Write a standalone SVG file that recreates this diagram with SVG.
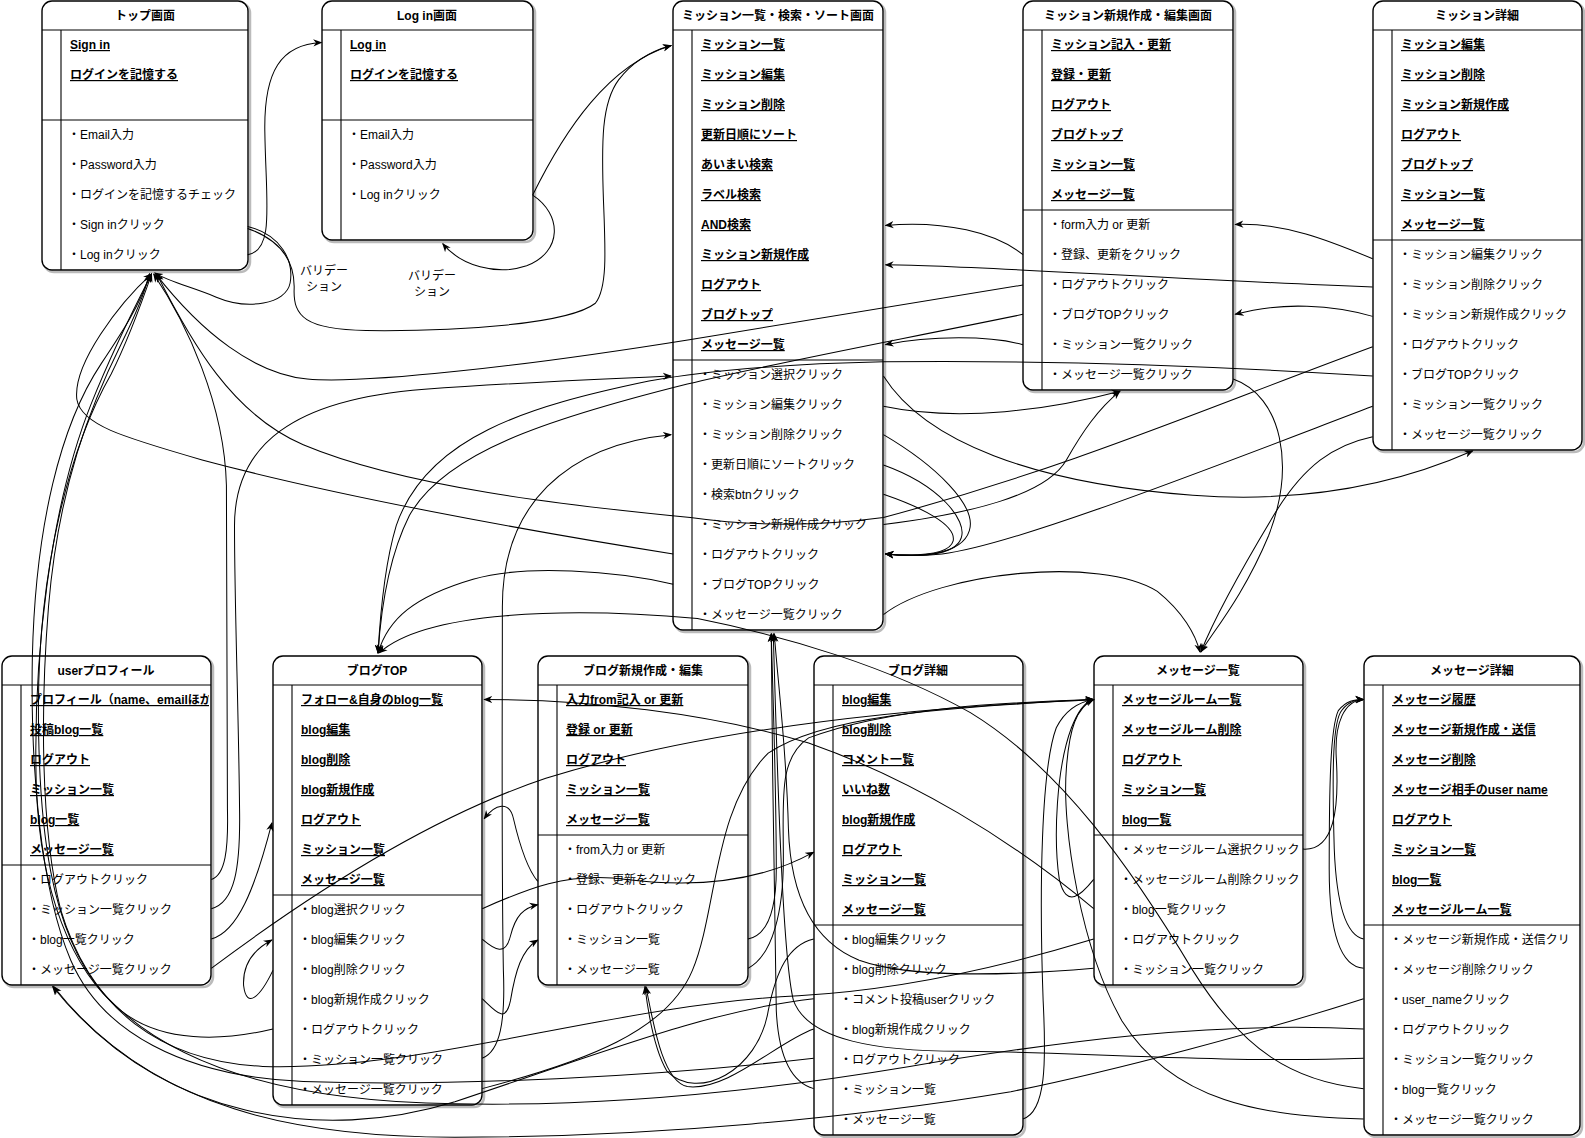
<svg xmlns="http://www.w3.org/2000/svg" width="1585" height="1138" viewBox="0 0 1585 1138">
<style>
  text { font-family: "Liberation Sans", "Noto Sans CJK JP", sans-serif; font-size: 12px; fill: #000; }
  .box { fill: #fff; stroke: #000; stroke-width: 1.4; }
  .sh { fill: none; stroke: #bbb; stroke-width: 2.5; }
  .ln { stroke: #000; stroke-width: 1.1; fill: none; }
  .hd { font-weight: bold; text-anchor: middle; }
  .up { font-weight: bold; text-decoration: underline; }
  .lb { text-anchor: middle; }
  .cn path { fill: none; stroke: #000; stroke-width: 1; marker-end: url(#arr); }
</style>
<defs>
  <marker id="arr" viewBox="0 0 10 10" refX="9" refY="5" markerWidth="9" markerHeight="9" markerUnits="userSpaceOnUse" orient="auto">
    <path d="M0,1 L10,5 L0,9 L3,5 z" fill="#000"/>
  </marker>
  <clipPath id="clip-user"><rect x="0" y="0" width="207" height="329"/></clipPath>
  <clipPath id="clip-msgdetail"><rect x="0" y="0" width="216" height="479"/></clipPath>
</defs>
<rect width="1585" height="1138" fill="#fff"/>

<!-- トップ画面 -->
<g id="node-top" transform="translate(42,1)">
  <rect class="sh" x="2" y="2" width="206" height="269" rx="10"/>
  <rect class="box" width="206" height="269" rx="10"/>
  <line class="ln" x1="0" y1="29" x2="206" y2="29"/>
  <line class="ln" x1="19" y1="29" x2="19" y2="269"/>
  <line class="ln" x1="0" y1="119" x2="206" y2="119"/>
  <text class="hd" x="103" y="19">トップ画面</text>
  <text class="up" x="28" y="48">Sign in</text>
  <text class="up" x="28" y="78">ログインを記憶する</text>
  <text x="26" y="138">・Email入力</text>
  <text x="26" y="168">・Password入力</text>
  <text x="26" y="198">・ログインを記憶するチェック</text>
  <text x="26" y="228">・Sign inクリック</text>
  <text x="26" y="258">・Log inクリック</text>
</g>

<!-- Log in画面 -->
<g id="node-login" transform="translate(322,1)">
  <rect class="sh" x="2" y="2" width="211" height="239" rx="10"/>
  <rect class="box" width="211" height="239" rx="10"/>
  <line class="ln" x1="0" y1="29" x2="211" y2="29"/>
  <line class="ln" x1="19" y1="29" x2="19" y2="239"/>
  <line class="ln" x1="0" y1="119" x2="211" y2="119"/>
  <text class="hd" x="105" y="19">Log in画面</text>
  <text class="up" x="28" y="48">Log in</text>
  <text class="up" x="28" y="78">ログインを記憶する</text>
  <text x="26" y="138">・Email入力</text>
  <text x="26" y="168">・Password入力</text>
  <text x="26" y="198">・Log inクリック</text>
</g>

<!-- ミッション一覧・検索・ソート画面 -->
<g id="node-mission-list" transform="translate(673,1)">
  <rect class="sh" x="2" y="2" width="210" height="629" rx="10"/>
  <rect class="box" width="210" height="629" rx="10"/>
  <line class="ln" x1="0" y1="29" x2="210" y2="29"/>
  <line class="ln" x1="19" y1="29" x2="19" y2="629"/>
  <line class="ln" x1="0" y1="359" x2="210" y2="359"/>
  <text class="hd" x="105" y="19">ミッション一覧・検索・ソート画面</text>
  <text class="up" x="28" y="48">ミッション一覧</text>
  <text class="up" x="28" y="78">ミッション編集</text>
  <text class="up" x="28" y="108">ミッション削除</text>
  <text class="up" x="28" y="138">更新日順にソート</text>
  <text class="up" x="28" y="168">あいまい検索</text>
  <text class="up" x="28" y="198">ラベル検索</text>
  <text class="up" x="28" y="228">AND検索</text>
  <text class="up" x="28" y="258">ミッション新規作成</text>
  <text class="up" x="28" y="288">ログアウト</text>
  <text class="up" x="28" y="318">ブログトップ</text>
  <text class="up" x="28" y="348">メッセージ一覧</text>
  <text x="26" y="378">・ミッション選択クリック</text>
  <text x="26" y="408">・ミッション編集クリック</text>
  <text x="26" y="438">・ミッション削除クリック</text>
  <text x="26" y="468">・更新日順にソートクリック</text>
  <text x="26" y="498">・検索btnクリック</text>
  <text x="26" y="528">・ミッション新規作成クリック</text>
  <text x="26" y="558">・ログアウトクリック</text>
  <text x="26" y="588">・ブログTOPクリック</text>
  <text x="26" y="618">・メッセージ一覧クリック</text>
</g>

<!-- ミッション新規作成・編集画面 -->
<g id="node-mission-edit" transform="translate(1023,1)">
  <rect class="sh" x="2" y="2" width="210" height="389" rx="10"/>
  <rect class="box" width="210" height="389" rx="10"/>
  <line class="ln" x1="0" y1="29" x2="210" y2="29"/>
  <line class="ln" x1="19" y1="29" x2="19" y2="389"/>
  <line class="ln" x1="0" y1="209" x2="210" y2="209"/>
  <text class="hd" x="105" y="19">ミッション新規作成・編集画面</text>
  <text class="up" x="28" y="48">ミッション記入・更新</text>
  <text class="up" x="28" y="78">登録・更新</text>
  <text class="up" x="28" y="108">ログアウト</text>
  <text class="up" x="28" y="138">ブログトップ</text>
  <text class="up" x="28" y="168">ミッション一覧</text>
  <text class="up" x="28" y="198">メッセージ一覧</text>
  <text x="26" y="228">・form入力 or 更新</text>
  <text x="26" y="258">・登録、更新をクリック</text>
  <text x="26" y="288">・ログアウトクリック</text>
  <text x="26" y="318">・ブログTOPクリック</text>
  <text x="26" y="348">・ミッション一覧クリック</text>
  <text x="26" y="378">・メッセージ一覧クリック</text>
</g>

<!-- ミッション詳細 -->
<g id="node-mission-detail" transform="translate(1373,1)">
  <rect class="sh" x="2" y="2" width="209" height="449" rx="10"/>
  <rect class="box" width="209" height="449" rx="10"/>
  <line class="ln" x1="0" y1="29" x2="209" y2="29"/>
  <line class="ln" x1="19" y1="29" x2="19" y2="449"/>
  <line class="ln" x1="0" y1="239" x2="209" y2="239"/>
  <text class="hd" x="104" y="19">ミッション詳細</text>
  <text class="up" x="28" y="48">ミッション編集</text>
  <text class="up" x="28" y="78">ミッション削除</text>
  <text class="up" x="28" y="108">ミッション新規作成</text>
  <text class="up" x="28" y="138">ログアウト</text>
  <text class="up" x="28" y="168">ブログトップ</text>
  <text class="up" x="28" y="198">ミッション一覧</text>
  <text class="up" x="28" y="228">メッセージ一覧</text>
  <text x="26" y="258">・ミッション編集クリック</text>
  <text x="26" y="288">・ミッション削除クリック</text>
  <text x="26" y="318">・ミッション新規作成クリック</text>
  <text x="26" y="348">・ログアウトクリック</text>
  <text x="26" y="378">・ブログTOPクリック</text>
  <text x="26" y="408">・ミッション一覧クリック</text>
  <text x="26" y="438">・メッセージ一覧クリック</text>
</g>

<!-- userプロフィール -->
<g id="node-user-profile" transform="translate(2,656)">
  <rect class="sh" x="2" y="2" width="209" height="329" rx="10"/>
  <rect class="box" width="209" height="329" rx="10"/>
  <line class="ln" x1="0" y1="29" x2="209" y2="29"/>
  <line class="ln" x1="19" y1="29" x2="19" y2="329"/>
  <line class="ln" x1="0" y1="209" x2="209" y2="209"/>
  <text class="hd" x="104" y="19">userプロフィール</text>
  <text class="up" x="28" y="48" clip-path="url(#clip-user)">プロフィール（name、emailほか</text>
  <text class="up" x="28" y="78">投稿blog一覧</text>
  <text class="up" x="28" y="108">ログアウト</text>
  <text class="up" x="28" y="138">ミッション一覧</text>
  <text class="up" x="28" y="168">blog一覧</text>
  <text class="up" x="28" y="198">メッセージ一覧</text>
  <text x="26" y="228">・ログアウトクリック</text>
  <text x="26" y="258">・ミッション一覧クリック</text>
  <text x="26" y="288">・blog一覧クリック</text>
  <text x="26" y="318">・メッセージ一覧クリック</text>
</g>

<!-- ブログTOP -->
<g id="node-blog-top" transform="translate(273,656)">
  <rect class="sh" x="2" y="2" width="209" height="449" rx="10"/>
  <rect class="box" width="209" height="449" rx="10"/>
  <line class="ln" x1="0" y1="29" x2="209" y2="29"/>
  <line class="ln" x1="19" y1="29" x2="19" y2="449"/>
  <line class="ln" x1="0" y1="239" x2="209" y2="239"/>
  <text class="hd" x="104" y="19">ブログTOP</text>
  <text class="up" x="28" y="48">フォロー&amp;自身のblog一覧</text>
  <text class="up" x="28" y="78">blog編集</text>
  <text class="up" x="28" y="108">blog削除</text>
  <text class="up" x="28" y="138">blog新規作成</text>
  <text class="up" x="28" y="168">ログアウト</text>
  <text class="up" x="28" y="198">ミッション一覧</text>
  <text class="up" x="28" y="228">メッセージ一覧</text>
  <text x="26" y="258">・blog選択クリック</text>
  <text x="26" y="288">・blog編集クリック</text>
  <text x="26" y="318">・blog削除クリック</text>
  <text x="26" y="348">・blog新規作成クリック</text>
  <text x="26" y="378">・ログアウトクリック</text>
  <text x="26" y="408">・ミッション一覧クリック</text>
  <text x="26" y="438">・メッセージ一覧クリック</text>
</g>

<!-- ブログ新規作成・編集 -->
<g id="node-blog-edit" transform="translate(538,656)">
  <rect class="sh" x="2" y="2" width="210" height="329" rx="10"/>
  <rect class="box" width="210" height="329" rx="10"/>
  <line class="ln" x1="0" y1="29" x2="210" y2="29"/>
  <line class="ln" x1="19" y1="29" x2="19" y2="329"/>
  <line class="ln" x1="0" y1="179" x2="210" y2="179"/>
  <text class="hd" x="105" y="19">ブログ新規作成・編集</text>
  <text class="up" x="28" y="48">入力from記入 or 更新</text>
  <text class="up" x="28" y="78">登録 or 更新</text>
  <text class="up" x="28" y="108">ログアウト</text>
  <text class="up" x="28" y="138">ミッション一覧</text>
  <text class="up" x="28" y="168">メッセージ一覧</text>
  <text x="26" y="198">・from入力 or 更新</text>
  <text x="26" y="228">・登録、更新をクリック</text>
  <text x="26" y="258">・ログアウトクリック</text>
  <text x="26" y="288">・ミッション一覧</text>
  <text x="26" y="318">・メッセージ一覧</text>
</g>

<!-- ブログ詳細 -->
<g id="node-blog-detail" transform="translate(814,656)">
  <rect class="sh" x="2" y="2" width="209" height="479" rx="10"/>
  <rect class="box" width="209" height="479" rx="10"/>
  <line class="ln" x1="0" y1="29" x2="209" y2="29"/>
  <line class="ln" x1="19" y1="29" x2="19" y2="479"/>
  <line class="ln" x1="0" y1="269" x2="209" y2="269"/>
  <text class="hd" x="104" y="19">ブログ詳細</text>
  <text class="up" x="28" y="48">blog編集</text>
  <text class="up" x="28" y="78">blog削除</text>
  <text class="up" x="28" y="108">コメント一覧</text>
  <text class="up" x="28" y="138">いいね数</text>
  <text class="up" x="28" y="168">blog新規作成</text>
  <text class="up" x="28" y="198">ログアウト</text>
  <text class="up" x="28" y="228">ミッション一覧</text>
  <text class="up" x="28" y="258">メッセージ一覧</text>
  <text x="26" y="288">・blog編集クリック</text>
  <text x="26" y="318">・blog削除クリック</text>
  <text x="26" y="348">・コメント投稿userクリック</text>
  <text x="26" y="378">・blog新規作成クリック</text>
  <text x="26" y="408">・ログアウトクリック</text>
  <text x="26" y="438">・ミッション一覧</text>
  <text x="26" y="468">・メッセージ一覧</text>
</g>

<!-- メッセージ一覧 -->
<g id="node-message-list" transform="translate(1094,656)">
  <rect class="sh" x="2" y="2" width="209" height="329" rx="10"/>
  <rect class="box" width="209" height="329" rx="10"/>
  <line class="ln" x1="0" y1="29" x2="209" y2="29"/>
  <line class="ln" x1="19" y1="29" x2="19" y2="329"/>
  <line class="ln" x1="0" y1="179" x2="209" y2="179"/>
  <text class="hd" x="104" y="19">メッセージ一覧</text>
  <text class="up" x="28" y="48">メッセージルーム一覧</text>
  <text class="up" x="28" y="78">メッセージルーム削除</text>
  <text class="up" x="28" y="108">ログアウト</text>
  <text class="up" x="28" y="138">ミッション一覧</text>
  <text class="up" x="28" y="168">blog一覧</text>
  <text x="26" y="198">・メッセージルーム選択クリック</text>
  <text x="26" y="228">・メッセージルーム削除クリック</text>
  <text x="26" y="258">・blog一覧クリック</text>
  <text x="26" y="288">・ログアウトクリック</text>
  <text x="26" y="318">・ミッション一覧クリック</text>
</g>

<!-- メッセージ詳細 -->
<g id="node-message-detail" transform="translate(1364,656)">
  <rect class="sh" x="2" y="2" width="216" height="479" rx="10"/>
  <rect class="box" width="216" height="479" rx="10"/>
  <line class="ln" x1="0" y1="29" x2="216" y2="29"/>
  <line class="ln" x1="19" y1="29" x2="19" y2="479"/>
  <line class="ln" x1="0" y1="269" x2="216" y2="269"/>
  <text class="hd" x="108" y="19">メッセージ詳細</text>
  <text class="up" x="28" y="48">メッセージ履歴</text>
  <text class="up" x="28" y="78">メッセージ新規作成・送信</text>
  <text class="up" x="28" y="108">メッセージ削除</text>
  <text class="up" x="28" y="138">メッセージ相手のuser name</text>
  <text class="up" x="28" y="168">ログアウト</text>
  <text class="up" x="28" y="198">ミッション一覧</text>
  <text class="up" x="28" y="228">blog一覧</text>
  <text class="up" x="28" y="258">メッセージルーム一覧</text>
  <text x="26" y="288" clip-path="url(#clip-msgdetail)">・メッセージ新規作成・送信クリ</text>
  <text x="26" y="318">・メッセージ削除クリック</text>
  <text x="26" y="348">・user_nameクリック</text>
  <text x="26" y="378">・ログアウトクリック</text>
  <text x="26" y="408">・ミッション一覧クリック</text>
  <text x="26" y="438">・blog一覧クリック</text>
  <text x="26" y="468">・メッセージ一覧クリック</text>
</g>

<!-- validation labels -->
<text class="lb" x="324" y="275">バリデー</text>
<text class="lb" x="324" y="291">ション</text>
<text class="lb" x="432" y="280">バリデー</text>
<text class="lb" x="432" y="296">ション</text>

<!-- connectors (laid out on a 1568-wide grid, scaled to the canvas) -->
<g id="connectors" class="cn" transform="scale(1.0108)">
  <path d="M245,252 C272,248 263,200 262,130 C261,70 278,44 318,42"/>
  <path d="M245,224 C278,232 291,258 287,280 C283,301 245,307 214,294 C190,284 168,279 153,270"/>
  <path d="M245,226 C276,237 292,256 291,286 C290,313 302,326 362,327 C452,328 562,321 589,300 C601,285 599,248 597,198 C595,140 595,102 612,79 C625,62 642,51 664,45"/>
  <path d="M527,193 C559,128 602,64 664,45"/>
  <path d="M527,193 C556,212 557,249 521,263 C491,273 456,263 438,241"/>
  <path d="M874,372 C915,437 1022,478 1180,490 C1320,500 1412,466 1457,446"/>
  <path d="M874,402 C950,418 1040,405 1108,387"/>
  <path d="M874,430 C925,460 967,500 959,525 C951,551 905,551 876,548"/>
  <path d="M874,460 C930,480 957,515 951,532 C945,551 905,551 876,548"/>
  <path d="M874,489 C915,503 946,520 943,535 C939,550 905,550 876,548"/>
  <path d="M874,519 C960,508 1035,490 1055,455 C1071,427 1086,405 1108,387"/>
  <path d="M874,608 C930,565 1090,550 1145,585 C1170,605 1183,628 1187,645"/>
  <path d="M666,548 C520,525 330,490 200,455 C120,432 80,420 76,395 C72,360 118,300 150,271"/>
  <path d="M666,578 C610,565 520,558 468,573 C410,590 384,612 374,646"/>
  <path d="M1012,252 C985,230 935,218 876,223"/>
  <path d="M1012,282 L682,336 C520,362 362,380 304,375 C252,370 200,330 154,271"/>
  <path d="M1012,311 C870,340 762,360 680,380 C540,415 440,448 405,510 C385,550 377,600 374,646"/>
  <path d="M1012,341 C980,332 920,332 876,341"/>
  <path d="M1220,375 C1268,392 1282,460 1255,530 C1230,590 1200,625 1188,645"/>
  <path d="M1358,256 C1315,238 1270,220 1222,222"/>
  <path d="M1358,284 C1150,276 950,262 876,262"/>
  <path d="M1358,313 C1320,302 1268,298 1222,311"/>
  <path d="M1358,343 C1190,405 1060,462 874,512 C800,522 740,520 683,512 C560,500 400,482 300,440 C230,410 190,340 155,271"/>
  <path d="M1358,372 C1200,362 1050,356 874,358 C780,360 702,366 642,377 C522,402 422,432 392,520 C380,560 376,610 374,646"/>
  <path d="M1358,402 C1200,462 1002,540 932,548 C912,550 892,550 876,548"/>
  <path d="M1358,432 C1320,440 1290,460 1260,510 C1230,560 1200,615 1188,645"/>
  <path d="M209,870 C223,866 226,840 225,800 L224,480 C222,400 185,320 152,271"/>
  <path d="M209,899 C232,893 238,860 237,800 C236,700 232,600 232,520 C232,440 290,395 420,385 C520,378 600,375 664,372"/>
  <path d="M209,929 C235,922 252,880 269,814"/>
  <path d="M209,958 C300,890 420,810 540,770 C700,720 900,700 1082,692"/>
  <path d="M477,899 C520,880 560,862 620,870 C700,880 760,868 805,843"/>
  <path d="M477,929 C490,940 500,946 505,926 C510,906 518,898 532,895"/>
  <path d="M477,988 C490,1000 500,1014 505,990 C510,960 516,940 532,930"/>
  <path d="M270,960 C258,985 244,1000 241,975 C240,955 250,940 269,930"/>
  <path d="M270,1018 C220,1030 160,1032 120,1000 C70,960 40,880 36,780 C32,650 50,500 90,400 C110,350 135,300 150,271"/>
  <path d="M477,1047 C495,1040 500,1010 498,960 C496,850 497,700 497,600 C497,500 560,440 664,430"/>
  <path d="M477,1077 C580,1050 660,1020 685,960 C710,900 705,800 760,745 C820,705 950,700 1082,692"/>
  <path d="M532,872 C522,860 515,840 508,810 C504,792 490,795 479,810"/>
  <path d="M805,929 C780,935 768,960 760,1000 C750,1060 690,1090 660,1060 C648,1040 641,1000 638,976"/>
  <path d="M805,1018 C770,1030 720,1080 680,1075 C655,1070 646,1010 639,976"/>
  <path d="M805,1047 C650,1065 450,1075 300,1070 C180,1065 100,1020 70,950 C40,880 30,760 32,650 C35,520 60,420 100,360 C120,330 140,300 148,271"/>
  <path d="M805,1077 C780,1070 770,1040 768,1000 C766,900 764,750 763,627"/>
  <path d="M1012,1107 C1035,1100 1035,1050 1032,990 C1028,880 1030,760 1045,720 C1055,700 1070,694 1082,692"/>
  <path d="M805,988 C700,1000 600,1040 450,1090 C320,1130 160,1110 52,976"/>
  <path d="M1349,988 C1250,1020 1100,1060 1000,1080 C850,1105 650,1125 450,1125 C300,1125 150,1100 53,976"/>
  <path d="M1349,1018 C1200,1010 1050,1030 900,1055 C750,1080 600,1095 450,1092 C300,1090 170,1060 100,980 C50,920 38,820 38,700 C38,560 70,440 110,370 C125,340 140,300 150,271"/>
  <path d="M1349,1047 C1200,1052 1050,1040 950,1040 C870,1040 800,1030 785,990 C775,950 770,800 765,627"/>
  <path d="M1082,899 C1000,830 900,770 800,735 C700,705 580,692 479,692"/>
  <path d="M1349,1077 C1280,1070 1230,1040 1180,960 C1120,860 1050,760 960,705 C880,660 780,630 690,612 C560,600 420,605 375,646"/>
  <path d="M1349,1107 C1250,1105 1160,1090 1110,1010 C1070,940 1050,820 1055,760 C1058,720 1065,700 1082,692"/>
  <path d="M1349,929 C1330,925 1322,890 1320,840 C1318,770 1318,720 1326,705 C1332,695 1340,692 1349,692"/>
  <path d="M1349,958 C1325,956 1315,920 1315,860 C1315,780 1316,720 1324,703 C1332,693 1340,692 1349,692"/>
  <path d="M1289,840 C1320,842 1325,800 1322,750 C1320,715 1330,693 1349,692"/>
  <path d="M1082,870 C1070,885 1055,900 1048,870 C1042,830 1045,760 1060,720 C1066,705 1072,695 1082,692"/>
  <path d="M1082,929 C980,960 880,980 790,985 C600,995 420,1060 260,1055 C160,1050 90,1000 60,900 C40,820 40,700 48,600 C58,480 90,400 120,340 C135,310 143,290 148,271"/>
  <path d="M1082,958 C1000,965 900,968 850,950 C800,930 782,880 780,820 C778,740 770,680 766,627"/>
  <path d="M740,929 C760,925 768,900 768,860 C768,780 765,700 763,627"/>
  <path d="M740,958 C765,945 775,900 775,850 C775,790 770,750 800,730 C880,700 990,695 1082,692"/>
</g>
</svg>
